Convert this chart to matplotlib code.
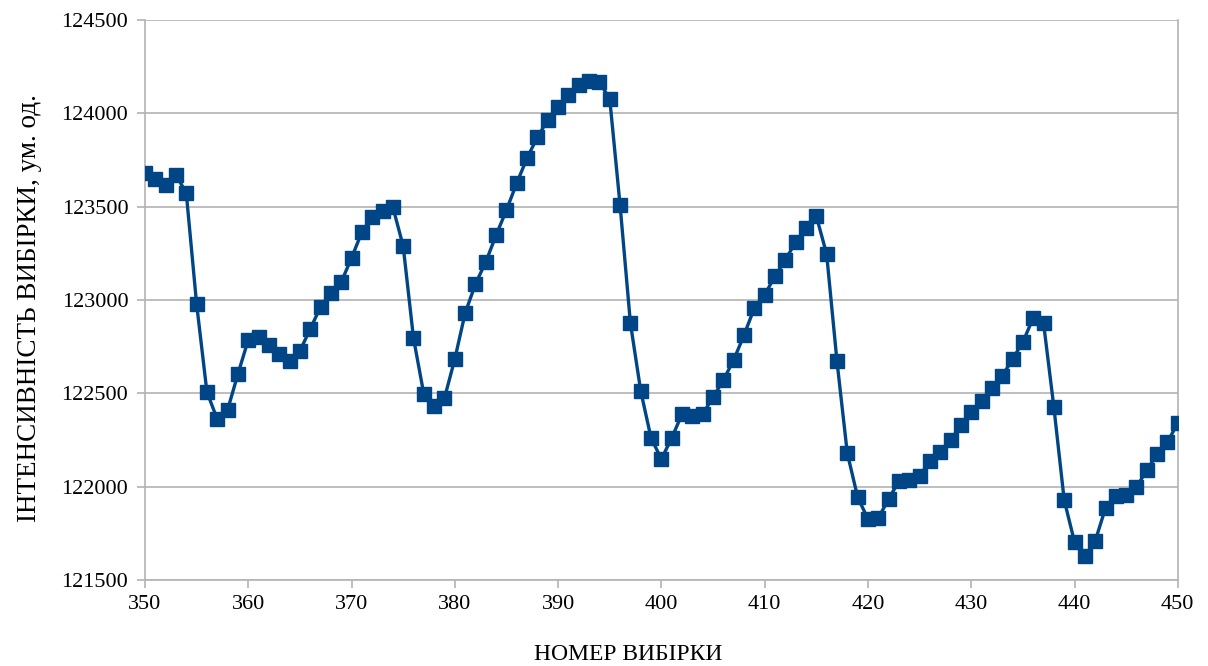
import matplotlib
matplotlib.use("Agg")
import matplotlib.pyplot as plt
import numpy as np

x_values = list(range(350, 451))
intensity = [
    123680, 123650, 123616, 123670, 123573, 122979, 122507, 122362, 122411, 122604,
    122786, 122802, 122759, 122711, 122673, 122727, 122845, 122963, 123038, 123096,
    123225, 123364, 123445, 123477, 123498, 123289, 122796, 122496, 122432, 122475,
    122684, 122930, 123086, 123204, 123348, 123482, 123627, 123761, 123873, 123964,
    124034, 124098, 124152, 124173, 124168, 124077, 123509, 122877, 122513, 122261,
    122148, 122261, 122389, 122379, 122389, 122480, 122571, 122679, 122812, 122957,
    123027, 123129, 123214, 123311, 123386, 123450, 123246, 122673, 122180, 121945,
    121827, 121832, 121934, 122030, 122036, 122057, 122138, 122186, 122250, 122330,
    122400, 122459, 122529, 122593, 122684, 122775, 122904, 122877, 122427, 121929,
    121704, 121629, 121709, 121886, 121950, 121955, 121998, 122089, 122175, 122239,
    122341,
]
x_ticks = [350, 360, 370, 380, 390, 400, 410, 420, 430, 440, 450]
y_ticks = [121500, 122000, 122500, 123000, 123500, 124000, 124500]
x_label = "НОМЕР ВИБІРКИ"
y_label = "ІНТЕНСИВНІСТЬ ВИБІРКИ, ум. од."

plt.rcParams['font.family'] = ['Liberation Serif', 'DejaVu Serif']
plt.rcParams['font.size'] = 16

fig = plt.figure(figsize=(12.08, 6.66), dpi=100)
ax = fig.add_axes([0.12, 0.129, 0.855, 0.841])

ax.plot(x_values, intensity, color='#004586', linewidth=2.4, marker='s',
        markersize=9.5, markerfacecolor='#004586', markeredgecolor='#004586', zorder=3)

ax.set_xlim(350, 450)
ax.set_ylim(121500, 124500)
ax.set_xticks(x_ticks)
ax.set_yticks(y_ticks)
ax.yaxis.grid(True, color='#b3b3b3', linewidth=1.2)
ax.set_axisbelow(True)
for s in ax.spines.values():
    s.set_color('#b3b3b3')
    s.set_linewidth(1.2)
ax.spines['top'].set_visible(False)
ax.tick_params(axis='both', direction='out', color='#b3b3b3', length=6, width=1.2, labelsize=16)
ax.tick_params(axis='x', pad=5)
ax.tick_params(axis='y', pad=6)
ax.set_xlabel(x_label, fontsize=17)
ax.set_ylabel(y_label, fontsize=19.5)
ax.xaxis.set_label_coords(0.4676, -0.115)
ax.yaxis.set_label_coords(-0.1, 0.485)

fig.savefig('out.png', dpi=100)
